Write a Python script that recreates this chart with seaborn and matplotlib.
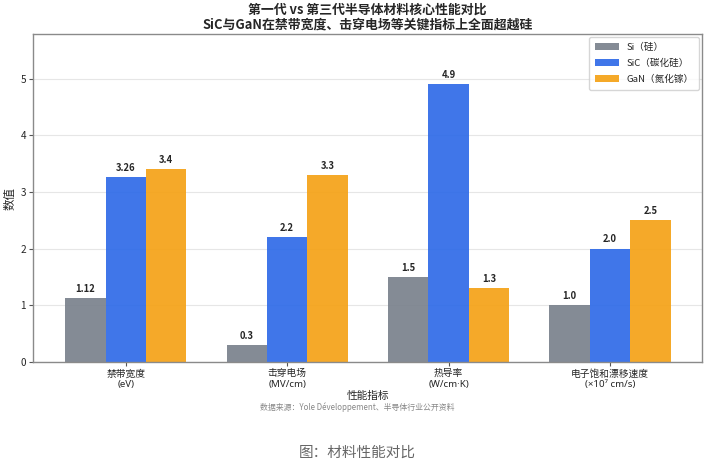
"""
Semiconductor material comparison — Si vs SiC vs GaN grouped bar chart.
"""

import matplotlib
matplotlib.use("Agg")
import matplotlib.pyplot as plt
import pandas as pd
import seaborn as sns

categories = ["禁带宽度\n(eV)", "击穿电场\n(MV/cm)", "热导率\n(W/cm·K)", "电子饱和漂移速度\n(×10⁷ cm/s)"]
materials = ["Si（硅）", "SiC（碳化硅）", "GaN（氮化镓）"]
si_values = [1.12, 0.3, 1.5, 1.0]
sic_values = [3.26, 2.2, 4.9, 2.0]
gan_values = [3.4, 3.3, 1.3, 2.5]
colors = ["#7a818c", "#2f6ae8", "#f5a216"]

rows = []
for mat, vals in zip(materials, [si_values, sic_values, gan_values]):
    for cat, v in zip(categories, vals):
        rows.append({"指标": cat, "材料": mat, "数值": v})
df = pd.DataFrame(rows)

sns.set_theme(style="white")
plt.rcParams["font.family"] = ["Noto Sans CJK SC", "DejaVu Sans"]

fig = plt.figure(figsize=(7.14, 4.68), dpi=100)
ax = fig.add_axes([0.0462, 0.2265, 0.9370, 0.7005])

sns.barplot(
    data=df, x="指标", y="数值", hue="材料", palette=colors,
    width=0.75, alpha=0.92, ax=ax, saturation=1, linewidth=0,
)

for container in ax.containers:
    ax.bar_label(
        container, labels=[str(v) for v in container.datavalues],
        padding=3, fontsize=6.8, fontweight="bold",
    )

ax.set_xlim(-0.575, 3.57)
ax.set_ylim(0, max(sic_values) * 1.18)
ax.yaxis.grid(True, color="#e6e6e6", linewidth=0.8)
ax.set_axisbelow(True)
for spine in ax.spines.values():
    spine.set_color("#8a8a8a")
    spine.set_linewidth(1.0)
ax.tick_params(axis="both", length=3, color="#555555", width=0.8, pad=2)
ax.tick_params(axis="x", bottom=True, labelsize=7)
ax.tick_params(axis="y", left=True, labelsize=7.2)
for lbl in ax.get_xticklabels():
    lbl.set_linespacing(1.25)
    lbl.set_family(["Noto Sans", "Noto Sans CJK SC", "DejaVu Sans"])

ax.set_xlabel("性能指标", fontsize=7.7, labelpad=1)
ax.set_ylabel("数值", fontsize=8.3, labelpad=3)
ax.set_title(
    "第一代 vs 第三代半导体材料核心性能对比\nSiC与GaN在禁带宽度、击穿电场等关键指标上全面超越硅",
    fontsize=9.3, fontweight="bold", linespacing=1.1, pad=4,
)

leg = ax.legend(loc="upper right", fontsize=6.9, frameon=True, fancybox=True,
                borderpad=0.6, handlelength=2.5, borderaxespad=0.3,
                labelspacing=0.7)
leg.get_frame().set_edgecolor("#cccccc")
leg.set_title(None)

fig.text(0.5, 0.1303, "数据来源：Yole Développement、半导体行业公开资料",
         ha="center", va="center", fontsize=5.7, color="#888888")
fig.text(0.5, 0.032, "图：材料性能对比", ha="center", va="center",
         fontsize=10.5, color="#666666")

fig.savefig("out.png", dpi=100)
plt.close(fig)
